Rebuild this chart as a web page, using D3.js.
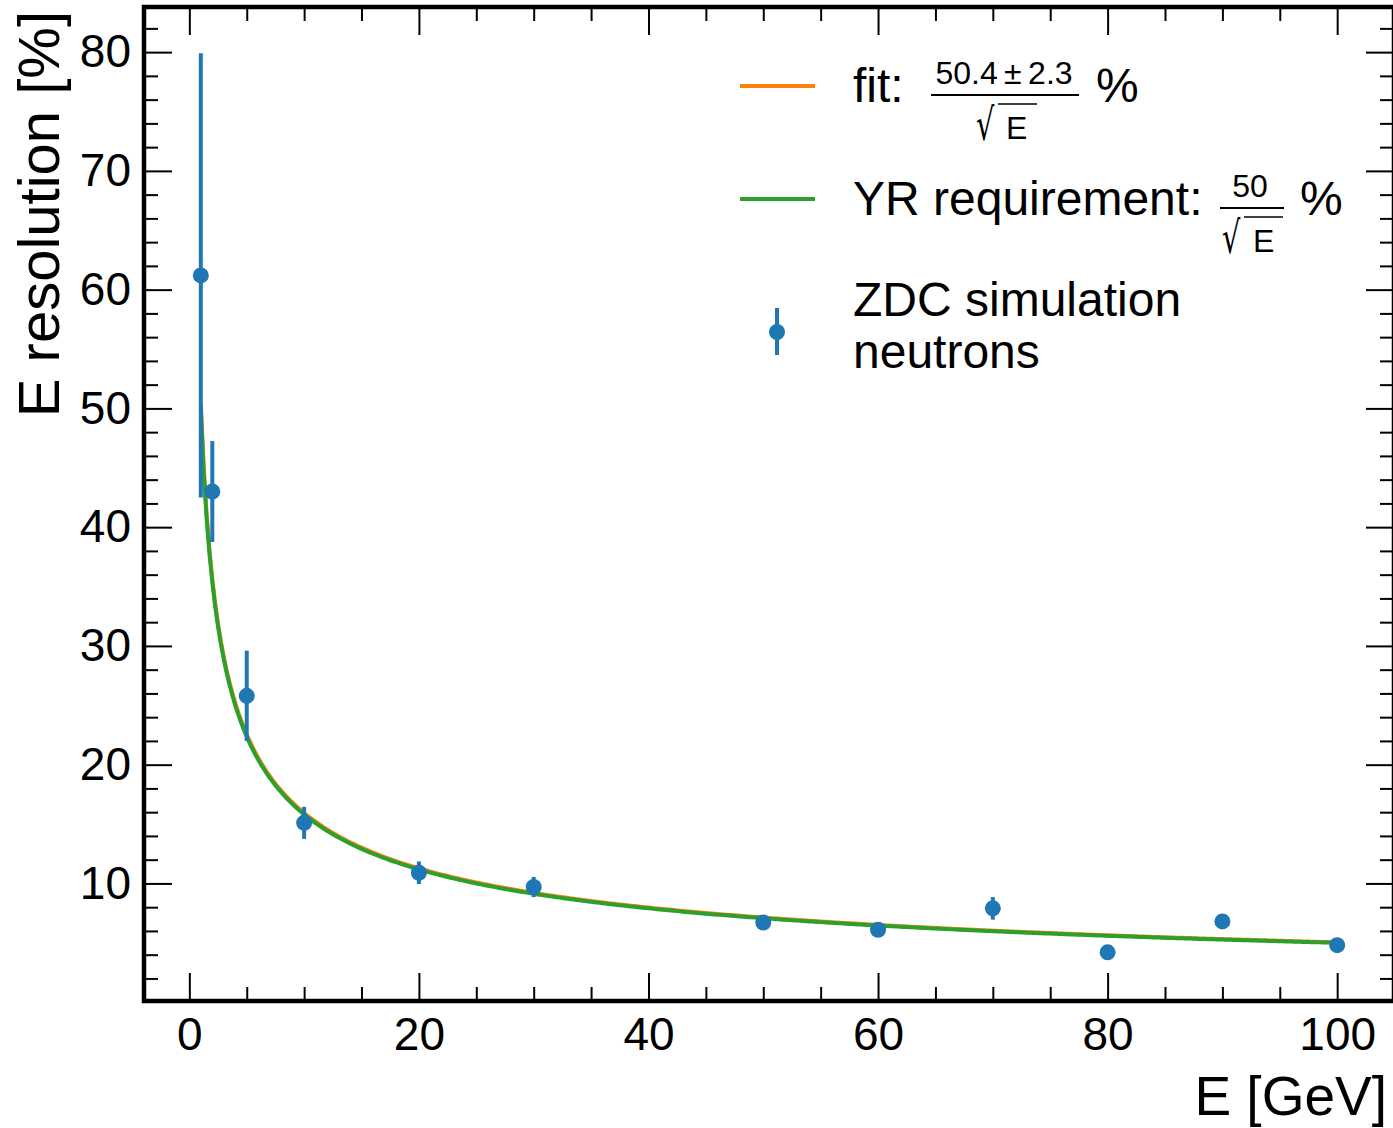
<!DOCTYPE html>
<html>
<head>
<meta charset="utf-8">
<script src="https://cdn.jsdelivr.net/npm/d3@7"></script>
<style>
  html, body { margin: 0; padding: 0; background: #fff; }
  svg { display: block; font-family: "Liberation Sans", Arial, Helvetica, sans-serif; }
</style>
</head>
<body>
<svg id="chart" width="1393" height="1128"></svg>
<script>
// ---- data ----
const energies   = [1, 2, 5, 10, 20, 30, 50, 60, 70, 80, 90, 100];
const resolution = [61.2, 43.0, 25.8, 15.1, 10.9, 9.7, 6.7, 6.1, 7.9, 4.2, 6.8, 4.8];
const resError   = [18.7, 4.25, 3.8, 1.35, 0.95, 0.85, 0.4, 0.35, 0.95, 0.3, 0.4, 0.3];
const fitCoeff = 50.4;
const fitCoeffErr = 2.3;
const yrCoeff = 50;
const xTickValues = [0, 20, 40, 60, 80, 100];
const yTickValues = [10, 20, 30, 40, 50, 60, 70, 80];
const xDomain = [-3.95, 104.95];
const yDomain = [0.1, 83.8];

// ---- layout ----
const L = 144, T = 7, R = 1394, B = 1001;
const svg = d3.select("#chart");

const x = d3.scaleLinear().domain(xDomain).range([L, R]);
const y = d3.scaleLinear().domain(yDomain).range([B, T]);

const blue = "#1f77b4", orange = "#ff7f0e", green = "#2ca02c";

// curves
const eGrid = d3.range(1, 100.001, 0.25);
const line = d3.line().x(d => x(d[0])).y(d => y(d[1]));
svg.append("path")
  .attr("d", line(eGrid.map(e => [e, fitCoeff / Math.sqrt(e)])))
  .attr("fill", "none").attr("stroke", orange).attr("stroke-width", 4);
svg.append("path")
  .attr("d", line(eGrid.map(e => [e, yrCoeff / Math.sqrt(e)])))
  .attr("fill", "none").attr("stroke", green).attr("stroke-width", 4);

// error bars + points
const pts = energies.map((e, i) => ({e, r: resolution[i], s: resError[i]}));
svg.append("g").selectAll("line").data(pts).join("line")
  .attr("x1", d => x(d.e)).attr("x2", d => x(d.e))
  .attr("y1", d => y(d.r - d.s)).attr("y2", d => y(d.r + d.s))
  .attr("stroke", blue).attr("stroke-width", 4);
svg.append("g").selectAll("circle").data(pts).join("circle")
  .attr("cx", d => x(d.e)).attr("cy", d => y(d.r)).attr("r", 8)
  .attr("fill", blue);

// ---- axes (ticks inward on all four sides) ----
const majorLen = 28, minorLen = 14;
const xMinor = d3.range(0, 105, 5).filter(v => !xTickValues.includes(v));
const yMinor = d3.range(2, 84, 2).filter(v => !yTickValues.includes(v));

function tickStyle(g) {
  g.select(".domain").remove();
  g.selectAll(".tick line").attr("stroke", "#000").attr("stroke-width", 2);
}

// bottom
svg.append("g").attr("transform", `translate(0,${B})`)
  .call(d3.axisBottom(x).tickValues(xTickValues).tickSize(-majorLen).tickPadding(16).tickFormat(d3.format("d")))
  .call(tickStyle)
  .call(g => g.selectAll("text").attr("font-size", 46).attr("fill", "#000")
    .attr("font-family", "Liberation Sans, Arial, sans-serif"));
svg.append("g").attr("transform", `translate(0,${B})`)
  .call(d3.axisBottom(x).tickValues(xMinor).tickSize(-minorLen).tickFormat(""))
  .call(tickStyle);
// top
svg.append("g").attr("transform", `translate(0,${T})`)
  .call(d3.axisTop(x).tickValues(xTickValues).tickSize(-majorLen).tickFormat(""))
  .call(tickStyle);
svg.append("g").attr("transform", `translate(0,${T})`)
  .call(d3.axisTop(x).tickValues(xMinor).tickSize(-minorLen).tickFormat(""))
  .call(tickStyle);
// left
svg.append("g").attr("transform", `translate(${L},0)`)
  .call(d3.axisLeft(y).tickValues(yTickValues).tickSize(-majorLen).tickPadding(13).tickFormat(d3.format("d")))
  .call(tickStyle)
  .call(g => g.selectAll("text").attr("font-size", 46).attr("fill", "#000")
    .attr("font-family", "Liberation Sans, Arial, sans-serif"));
svg.append("g").attr("transform", `translate(${L},0)`)
  .call(d3.axisLeft(y).tickValues(yMinor).tickSize(-minorLen).tickFormat(""))
  .call(tickStyle);
// right
svg.append("g").attr("transform", `translate(${R},0)`)
  .call(d3.axisRight(y).tickValues(yTickValues).tickSize(-majorLen).tickFormat(""))
  .call(tickStyle);
svg.append("g").attr("transform", `translate(${R},0)`)
  .call(d3.axisRight(y).tickValues(yMinor).tickSize(-minorLen).tickFormat(""))
  .call(tickStyle);

// frame
svg.append("rect").attr("x", L).attr("y", T).attr("width", R - L).attr("height", B - T)
  .attr("fill", "none").attr("stroke", "#000").attr("stroke-width", 4.5);

// axis labels
svg.append("text").attr("x", 1387).attr("y", 1115).attr("text-anchor", "end")
  .attr("font-size", 55).text("E [GeV]");
svg.append("text").attr("transform", "translate(59,11) rotate(-90)").attr("text-anchor", "end")
  .attr("font-size", 58).text("E resolution [%]");

// ---- legend ----
const lg = svg.append("g");
lg.append("line").attr("x1", 740).attr("x2", 815).attr("y1", 86).attr("y2", 86)
  .attr("stroke", orange).attr("stroke-width", 4);
lg.append("line").attr("x1", 740).attr("x2", 815).attr("y1", 199).attr("y2", 199)
  .attr("stroke", green).attr("stroke-width", 4);
lg.append("line").attr("x1", 777).attr("x2", 777).attr("y1", 308).attr("y2", 355)
  .attr("stroke", blue).attr("stroke-width", 4);
lg.append("circle").attr("cx", 777).attr("cy", 332).attr("r", 8).attr("fill", blue);

const fs = 48, fsSmall = 32;
function radical(xPos, base) {
  lg.append("text")
    .attr("transform", `translate(${xPos},${base}) scale(0.72,1.1)`)
    .attr("font-family", "DejaVu Sans").attr("font-size", 40).text("\u221a");
}
// fit entry
lg.append("text").attr("x", 853).attr("y", 102).attr("font-size", fs).text("fit:");
lg.append("text").attr("x", 1004).attr("y", 84).attr("font-size", fsSmall).attr("text-anchor", "middle")
  .text(`${fitCoeff}\u2009\u00b1\u2009${fitCoeffErr}`);
lg.append("line").attr("x1", 931).attr("x2", 1079).attr("y1", 95).attr("y2", 95)
  .attr("stroke", "#000").attr("stroke-width", 2);
radical(976, 140);
lg.append("line").attr("x1", 998).attr("x2", 1037).attr("y1", 104).attr("y2", 104)
  .attr("stroke", "#000").attr("stroke-width", 1.5);
lg.append("text").attr("x", 1006).attr("y", 139).attr("font-size", fsSmall).text("E");
lg.append("text").attr("x", 1096).attr("y", 102).attr("font-size", fs).text("%");

// YR entry
lg.append("text").attr("x", 853).attr("y", 215).attr("font-size", fs).text("YR requirement:");
lg.append("text").attr("x", 1250).attr("y", 197).attr("font-size", fsSmall).attr("text-anchor", "middle")
  .text(`${yrCoeff}`);
lg.append("line").attr("x1", 1220).attr("x2", 1284).attr("y1", 208).attr("y2", 208)
  .attr("stroke", "#000").attr("stroke-width", 2);
radical(1222, 253);
lg.append("line").attr("x1", 1244).attr("x2", 1283).attr("y1", 217).attr("y2", 217)
  .attr("stroke", "#000").attr("stroke-width", 1.5);
lg.append("text").attr("x", 1253).attr("y", 252).attr("font-size", fsSmall).text("E");
lg.append("text").attr("x", 1300).attr("y", 215).attr("font-size", fs).text("%");

// data entry
lg.append("text").attr("x", 853).attr("y", 316).attr("font-size", fs).text("ZDC simulation");
lg.append("text").attr("x", 853).attr("y", 368).attr("font-size", fs).text("neutrons");
</script>
</body>
</html>
